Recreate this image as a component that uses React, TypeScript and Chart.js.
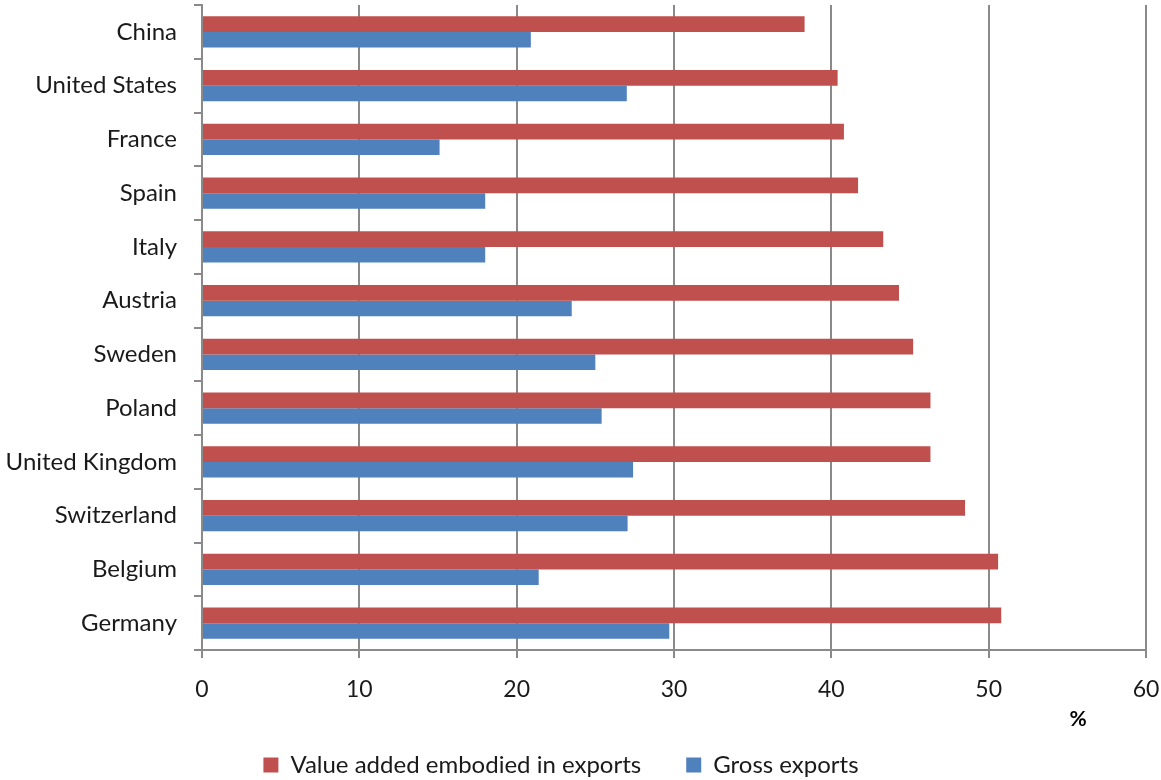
import React, { useEffect, useRef } from "react";
import { Chart, registerables } from "chart.js";

Chart.register(...registerables);

const categories = [
  "China",
  "United States",
  "France",
  "Spain",
  "Italy",
  "Austria",
  "Sweden",
  "Poland",
  "United Kingdom",
  "Switzerland",
  "Belgium",
  "Germany",
];
const valueAdded = [38.3, 40.4, 40.8, 41.7, 43.3, 44.3, 45.2, 46.3, 46.3, 48.5, 50.6, 50.8];
const grossExports = [20.9, 27.0, 15.1, 18.0, 18.0, 23.5, 25.0, 25.4, 27.4, 27.05, 21.4, 29.7];
const seriesNames = ["Value added embodied in exports", "Gross exports"];
const xTicks = [0, 10, 20, 30, 40, 50, 60];
const axisUnit = "%";

const RED = "#C0504D";
const BLUE = "#4F81BD";
const GRID = "#8a8a8a";
const FONT = "Lato, 'Liberation Sans', sans-serif";

export default function App() {
  const ref = useRef<HTMLCanvasElement | null>(null);

  useEffect(() => {
    document.body.style.margin = "0";
    const canvas = ref.current;
    if (!canvas) return;

    const unitPlugin = {
      id: "unitLabel",
      afterLayout(chart: any) {
        const lg = chart.legend;
        if (lg) {
          lg.left -= 12;
          lg.right -= 12;
          lg.top += 7;
          lg.bottom += 7;
        }
      },
      afterDraw(chart: any) {
        const { ctx, chartArea } = chart;
        ctx.save();
        ctx.font = `bold 21px ${FONT}`;
        ctx.fillStyle = "#000";
        ctx.textAlign = "center";
        ctx.textBaseline = "middle";
        ctx.fillText(axisUnit, chartArea.right - 68, 719);
        ctx.restore();
      },
    };

    const chart = new Chart(canvas, {
      type: "bar",
      data: {
        labels: categories,
        datasets: [
          {
            label: seriesNames[0],
            data: valueAdded,
            backgroundColor: RED,
            borderWidth: 0,
            categoryPercentage: 0.58,
            barPercentage: 1,
          },
          {
            label: seriesNames[1],
            data: grossExports,
            backgroundColor: BLUE,
            borderWidth: 0,
            categoryPercentage: 0.58,
            barPercentage: 1,
          },
        ],
      },
      options: {
        indexAxis: "y",
        responsive: false,
        animation: false,
        layout: { padding: { top: 5, right: 15, bottom: 0, left: 0 } },
        plugins: {
          legend: {
            position: "bottom",
            labels: {
              boxWidth: 15,
              boxHeight: 15,
              padding: 45,
              color: "#1a1a1a",
              font: { family: FONT, size: 24 },
            },
          },
          tooltip: { enabled: false },
          title: { display: false },
        },
        scales: {
          x: {
            min: 0,
            max: 60,
            afterBuildTicks(scale: any) {
              scale.ticks = xTicks.map((v) => ({ value: v }));
            },
            afterFit(scale: any) {
              scale.height = 51;
              scale.paddingLeft = 0;
              scale.paddingRight = 0;
            },
            grid: {
              color: GRID,
              lineWidth: 2,
              tickLength: 8,
              drawTicks: true,
            },
            border: { display: true, color: GRID, width: 2 },
            ticks: {
              color: "#1a1a1a",
              padding: 18,
              font: { family: FONT, size: 23 },
            },
          },
          y: {
            afterFit(scale: any) {
              scale.width = 202;
              scale.paddingTop = 0;
              scale.paddingBottom = 0;
            },
            grid: {
              drawOnChartArea: false,
              drawTicks: true,
              tickLength: 8,
              color: GRID,
              lineWidth: 2,
            },
            border: { display: true, color: GRID, width: 2 },
            ticks: {
              color: "#1a1a1a",
              padding: 17,
              font: { family: FONT, size: 24 },
            },
          },
        },
      },
      plugins: [unitPlugin],
    } as any);

    return () => chart.destroy();
  }, []);

  return (
    <div style={{ position: "fixed", left: 0, top: 0, width: 1161, height: 780, background: "#fff" }}>
      <canvas ref={ref} width={1161} height={780} />
    </div>
  );
}
